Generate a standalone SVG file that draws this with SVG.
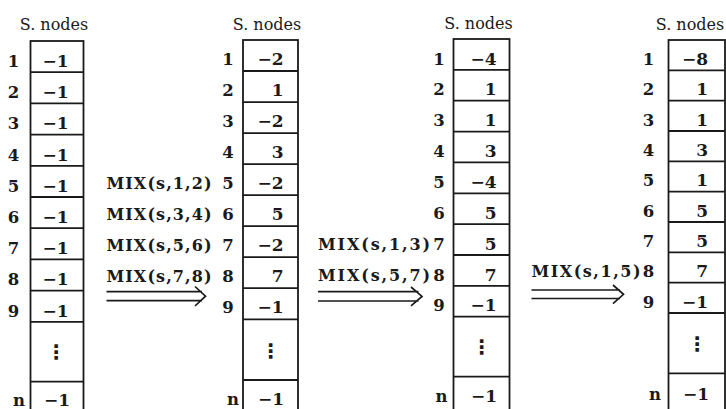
<svg xmlns="http://www.w3.org/2000/svg" width="726" height="409" viewBox="0 0 726 409">
<style>
.bg{fill:#ffffff}
.box{fill:none;stroke:#1a1a1a;stroke-width:1.8}
.sep{stroke:#1a1a1a;stroke-width:1.8}
.hdr{font-family:"DejaVu Serif","Liberation Serif",serif;font-size:16px;fill:#1a1a1a;text-anchor:middle}
.val{font-family:"DejaVu Serif","Liberation Serif",serif;font-size:17px;font-weight:bold;fill:#1a1a1a;text-anchor:end}
.idx{font-family:"DejaVu Serif","Liberation Serif",serif;font-size:16.5px;font-weight:bold;fill:#1a1a1a;text-anchor:middle}
.dots{font-family:"DejaVu Sans",sans-serif;font-size:20px;font-weight:bold;fill:#1a1a1a;text-anchor:middle}
.mix{font-family:"DejaVu Serif","Liberation Serif",serif;font-size:16px;font-weight:bold;fill:#1a1a1a}
.arr{fill:none;stroke:#1a1a1a;stroke-width:1.7;stroke-linejoin:miter}
</style>
<rect class="bg" x="0" y="0" width="726" height="409"/>

<g id="array1">
<text class="hdr" x="54" y="29.5">S. nodes</text>
<rect class="box" x="30.5" y="41" width="53" height="372"/>
<path class="sep" d="M30.5 72.2H83.5M30.5 103.4H83.5M30.5 134.6H83.5M30.5 165.8H83.5M30.5 197H83.5M30.5 228.2H83.5M30.5 259.4H83.5M30.5 290.6H83.5M30.5 321.8H83.5M30.5 381.7H83.5"/>
<text class="idx" x="13.5" y="67">1</text><text class="val" x="68.5" y="67">−1</text>
<text class="idx" x="13.5" y="98.2">2</text><text class="val" x="68.5" y="98.2">−1</text>
<text class="idx" x="13.5" y="129.4">3</text><text class="val" x="68.5" y="129.4">−1</text>
<text class="idx" x="13.5" y="160.6">4</text><text class="val" x="68.5" y="160.6">−1</text>
<text class="idx" x="13.5" y="191.8">5</text><text class="val" x="68.5" y="191.8">−1</text>
<text class="idx" x="13.5" y="223">6</text><text class="val" x="68.5" y="223">−1</text>
<text class="idx" x="13.5" y="254.2">7</text><text class="val" x="68.5" y="254.2">−1</text>
<text class="idx" x="13.5" y="285.4">8</text><text class="val" x="68.5" y="285.4">−1</text>
<text class="idx" x="13.5" y="316.6">9</text><text class="val" x="68.5" y="316.6">−1</text>
<text class="dots" x="56" y="359">⋮</text>
<text class="idx" x="19" y="406">n</text><text class="val" x="70" y="406">−1</text>
</g>

<g id="array2">
<text class="hdr" x="267" y="29.5">S. nodes</text>
<rect class="box" x="243" y="40" width="55" height="372"/>
<path class="sep" d="M243 71H298M243 102.1H298M243 133.1H298M243 164.1H298M243 195.2H298M243 226.2H298M243 257.2H298M243 288.2H298M243 319.3H298M243 380H298"/>
<text class="idx" x="228" y="65">1</text><text class="val" x="283.5" y="65">−2</text>
<text class="idx" x="228" y="96">2</text><text class="val" x="283.5" y="96">1</text>
<text class="idx" x="228" y="127.1">3</text><text class="val" x="283.5" y="127.1">−2</text>
<text class="idx" x="228" y="158.1">4</text><text class="val" x="283.5" y="158.1">3</text>
<text class="idx" x="228" y="189.1">5</text><text class="val" x="283.5" y="189.1">−2</text>
<text class="idx" x="228" y="220.2">6</text><text class="val" x="283.5" y="220.2">5</text>
<text class="idx" x="228" y="251.2">7</text><text class="val" x="283.5" y="251.2">−2</text>
<text class="idx" x="228" y="282.2">8</text><text class="val" x="283.5" y="282.2">7</text>
<text class="idx" x="228" y="313.2">9</text><text class="val" x="283.5" y="313.2">−1</text>
<text class="dots" x="270.5" y="357.5">⋮</text>
<text class="idx" x="233" y="405">n</text><text class="val" x="284" y="405">−1</text>
</g>

<g id="array3">
<text class="hdr" x="478.5" y="29">S. nodes</text>
<rect class="box" x="453.5" y="39" width="56" height="372"/>
<path class="sep" d="M453.5 69.9H509.5M453.5 100.7H509.5M453.5 131.6H509.5M453.5 162.4H509.5M453.5 193.3H509.5M453.5 224.2H509.5M453.5 255H509.5M453.5 285.9H509.5M453.5 316.7H509.5M453.5 376.7H509.5"/>
<text class="idx" x="439" y="64.5">1</text><text class="val" x="496.5" y="64.5">−4</text>
<text class="idx" x="439" y="95.4">2</text><text class="val" x="496.5" y="95.4">1</text>
<text class="idx" x="439" y="126.2">3</text><text class="val" x="496.5" y="126.2">1</text>
<text class="idx" x="439" y="157.1">4</text><text class="val" x="496.5" y="157.1">3</text>
<text class="idx" x="439" y="187.9">5</text><text class="val" x="496.5" y="187.9">−4</text>
<text class="idx" x="439" y="218.8">6</text><text class="val" x="496.5" y="218.8">5</text>
<text class="idx" x="439" y="249.7">7</text><text class="val" x="496.5" y="249.7">5</text>
<text class="idx" x="439" y="280.5">8</text><text class="val" x="496.5" y="280.5">7</text>
<text class="idx" x="439" y="311.4">9</text><text class="val" x="496.5" y="311.4">−1</text>
<text class="dots" x="481.5" y="354">⋮</text>
<text class="idx" x="441.5" y="402">n</text><text class="val" x="497" y="402">−1</text>
</g>

<g id="array4">
<text class="hdr" x="690" y="29.5">S. nodes</text>
<rect class="box" x="668.5" y="40" width="56.5" height="372"/>
<path class="sep" d="M668.5 70.3H725M668.5 100.7H725M668.5 131H725M668.5 161.3H725M668.5 191.7H725M668.5 222H725M668.5 252.3H725M668.5 282.7H725M668.5 313H725M668.5 373.3H725"/>
<text class="idx" x="648.5" y="65">1</text><text class="val" x="708" y="65">−8</text>
<text class="idx" x="648.5" y="95.3">2</text><text class="val" x="708" y="95.3">1</text>
<text class="idx" x="648.5" y="125.7">3</text><text class="val" x="708" y="125.7">1</text>
<text class="idx" x="648.5" y="156">4</text><text class="val" x="708" y="156">3</text>
<text class="idx" x="648.5" y="186.3">5</text><text class="val" x="708" y="186.3">1</text>
<text class="idx" x="648.5" y="216.7">6</text><text class="val" x="708" y="216.7">5</text>
<text class="idx" x="648.5" y="247">7</text><text class="val" x="708" y="247">5</text>
<text class="idx" x="648.5" y="277.3">8</text><text class="val" x="708" y="277.3">7</text>
<text class="idx" x="648.5" y="307.7">9</text><text class="val" x="708" y="307.7">−1</text>
<text class="dots" x="697" y="350.5">⋮</text>
<text class="idx" x="655" y="400">n</text><text class="val" x="709" y="400">−1</text>
</g>

<g id="connectors">
<g id="step1">
<text class="mix" x="106.5" y="189.1" textLength="105" lengthAdjust="spacing">MIX(s,1,2)</text>
<text class="mix" x="106.5" y="220.2" textLength="105" lengthAdjust="spacing">MIX(s,3,4)</text>
<text class="mix" x="106.5" y="251.2" textLength="105" lengthAdjust="spacing">MIX(s,5,6)</text>
<text class="mix" x="106.5" y="282.2" textLength="105" lengthAdjust="spacing">MIX(s,7,8)</text>
<path class="arr" d="M106.5 291.7H202M106.5 300.7H202M195 286.5L205.5 296.2L195 306"/>
</g>
<g id="step2">
<text class="mix" x="318" y="249.7" textLength="112" lengthAdjust="spacing">MIX(s,1,3)</text>
<text class="mix" x="318" y="280.5" textLength="112" lengthAdjust="spacing">MIX(s,5,7)</text>
<path class="arr" d="M318 291.7H418.5M318 301H418.5M411 287L422 296.4L411 305.8"/>
</g>
<g id="step3">
<text class="mix" x="531.5" y="277.3" textLength="109" lengthAdjust="spacing">MIX(s,1,5)</text>
<path class="arr" d="M531.5 290H620M531.5 298.5H620M613 285L623.5 294.3L613 303.6"/>
</g>
</g>
</svg>
